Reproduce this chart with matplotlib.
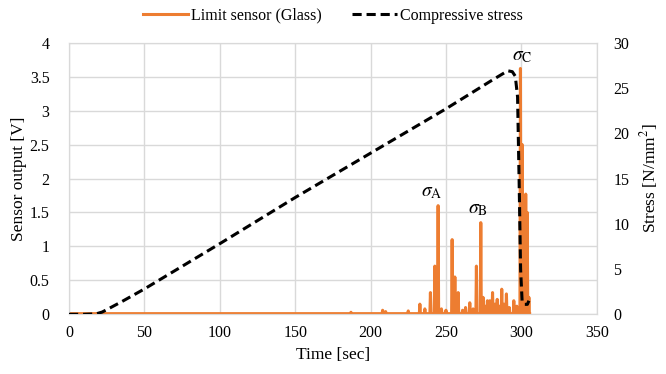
import numpy as np
import matplotlib
matplotlib.use("Agg")
from matplotlib import pyplot as plt

plt.rcParams["font.family"] = ["Liberation Serif", "DejaVu Serif"]
plt.rcParams["mathtext.fontset"] = "stix"

# compressive stress curve [sec], [N/mm2]
stress_t = [0, 10, 18, 22, 26, 35, 50, 75, 100, 150, 200, 250, 280, 287, 291, 294, 296, 297.5, 298.5, 299.5, 300.5, 302, 304, 305]
stress_v = [0, 0, 0.05, 0.25, 0.6, 1.4, 2.8, 5.3, 7.8, 12.9, 17.8, 22.7, 25.8, 26.5, 26.9, 26.8, 26.3, 24.0, 15.0, 5.0, 1.5, 1.1, 1.1, 1.5]

# sensor spikes [sec], [V]
spike_t = [187, 208, 210, 225, 232.7, 236, 239.7, 242.6, 244.8, 247, 250, 254.1, 255.9, 258.1, 261, 263, 265.8, 268, 270.2, 273.1, 274.6, 276, 277.5, 279.1, 280.9, 282.5, 284, 285.5, 287, 288.5, 290.1, 292, 295, 297, 299.4, 300.5, 301.5, 302.9, 303.9, 305]
spike_v = [0.03, 0.06, 0.04, 0.05, 0.15, 0.08, 0.32, 0.71, 1.6, 0.08, 0.06, 1.1, 0.55, 0.32, 0.06, 0.1, 0.17, 0.08, 0.71, 1.35, 0.25, 0.12, 0.2, 0.2, 0.32, 0.15, 0.22, 0.12, 0.37, 0.15, 0.3, 0.1, 0.2, 0.12, 3.62, 2.5, 0.5, 1.77, 1.5, 0.25]
base_v = 0.01


def main():
	sens_t = [0]
	sens_v = [base_v]
	for t, v in zip(spike_t, spike_v):
		sens_t += [t - 0.35, t, t + 0.35]
		sens_v += [base_v, v, base_v]
	sens_t.append(305.5)
	sens_v.append(base_v)

	fig = plt.figure(figsize = (6.66, 3.74), dpi = 100)
	ax = fig.add_axes([0.1036, 0.1596, 0.7924, 0.7262])
	ax2 = ax.twinx()

	l1, = ax.plot(sens_t, sens_v, color = "#ED7D31", lw = 2.2, label = "Limit sensor (Glass)", zorder = 3)
	l2, = ax2.plot(stress_t, stress_v, color = "black", lw = 2.2, ls = (0, (3, 1.6)), label = "Compressive stress", zorder = 4)

	ax.set_xlim(0, 350)
	ax.set_ylim(0, 4)
	ax2.set_ylim(0, 30)
	ax.set_xticks(np.arange(0, 351, 50))
	ax.set_yticks(np.arange(0, 4.01, 0.5))
	ax.set_yticklabels(["0", "0.5", "1", "1.5", "2", "2.5", "3", "3.5", "4"])
	ax2.set_yticks(np.arange(0, 31, 5))
	ax.grid(True, color = "#D9D9D9", lw = 1.0)
	ax.set_axisbelow(True)
	for a in (ax, ax2):
		for s in a.spines.values():
			s.set_color("#D9D9D9")
		a.tick_params(labelsize = 11.5, length = 0, pad = 8, colors = "#404040")
	ax.tick_params(axis = "y", pad = 14)
	ax2.tick_params(axis = "y", pad = 12)
	for lab in ax.get_xticklabels() + ax.get_yticklabels() + ax2.get_yticklabels():
		lab.set_color("black")

	ax.set_xlabel("Time [sec]", fontsize = 12.5, labelpad = 4)
	ax.set_ylabel("Sensor output [V]", fontsize = 12.5, labelpad = 2)
	ax2.set_ylabel("Stress [N/mm$^2$]", fontsize = 12.5, labelpad = 6)

	ax.text(240.6, 1.80, r"$\sigma_\mathrm{A}$", fontsize = 14, ha = "center", va = "center")
	ax.text(271.1, 1.54, r"$\sigma_\mathrm{B}$", fontsize = 14, ha = "center", va = "center")
	ax.text(300.3, 3.80, r"$\sigma_\mathrm{C}$", fontsize = 14, ha = "center", va = "center")

	fig.legend([l1, l2], [l1.get_label(), l2.get_label()], loc = "center", bbox_to_anchor = (0.5, 0.958),
		ncol = 2, frameon = False, fontsize = 11.5, handlelength = 2.8, columnspacing = 1.9, handletextpad = 0.2)

	fig.savefig("out.png", dpi = 100)
	plt.close(fig)


if __name__ == "__main__":
	main()
